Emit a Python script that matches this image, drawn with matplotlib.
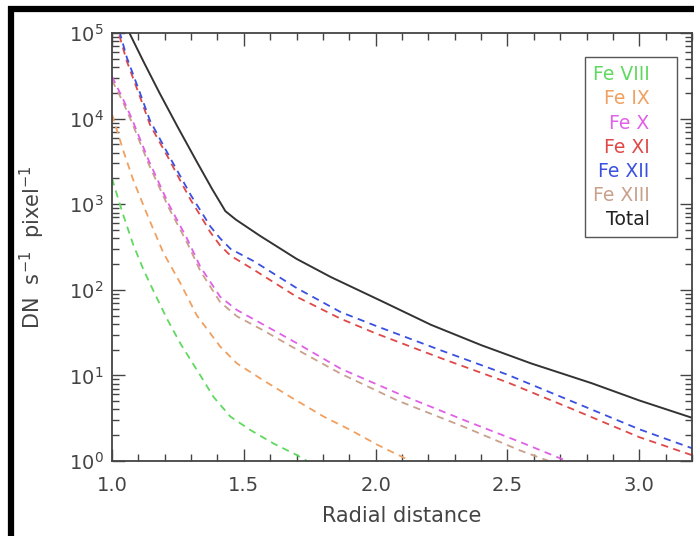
import matplotlib
matplotlib.use("Agg")
from matplotlib import pyplot as plt
from matplotlib.lines import Line2D
from matplotlib.ticker import MultipleLocator, FormatStrFormatter, LogLocator

# values (DN s^-1 pixel^-1 vs radial distance)
x_fe8 = [1.00, 1.04, 1.08, 1.12, 1.16, 1.21, 1.26, 1.335, 1.385, 1.449, 1.525, 1.613, 1.702, 1.74]
y_fe8 = [2.0e3, 790, 340, 170, 93, 45, 23.4, 10.0, 5.6, 3.3, 2.3, 1.6, 1.17, 1.0]

x_fe9 = [1.00, 1.043, 1.081, 1.12, 1.144, 1.195, 1.259, 1.322, 1.354, 1.411, 1.474, 1.563, 1.677, 1.803, 1.905, 2.006, 2.10, 2.14]
y_fe9 = [1.12e4, 4.2e3, 1.9e3, 955, 630, 270, 120, 50, 37, 21.6, 13.8, 9.2, 5.6, 3.3, 2.3, 1.55, 1.12, 0.97]

x_fe10 = [1.00, 1.04, 1.075, 1.14, 1.215, 1.284, 1.335, 1.41, 1.474, 1.563, 1.702, 1.867, 2.082, 2.336, 2.55, 2.75]
y_fe10 = [3.1e4, 1.74e4, 1.0e4, 3.2e3, 1.0e3, 400, 186, 83, 58, 41, 23.7, 12.0, 6.2, 3.0, 1.66, 0.93]

x_fe13 = [1.00, 1.04, 1.075, 1.14, 1.215, 1.284, 1.335, 1.41, 1.474, 1.563, 1.702, 1.867, 2.082, 2.336, 2.55, 2.72]
y_fe13 = [2.8e4, 1.6e4, 9.1e3, 2.9e3, 910, 360, 166, 72, 49, 35, 20, 10.5, 5.1, 2.5, 1.32, 0.85]

x_fe11 = [1.00, 1.03, 1.056, 1.106, 1.144, 1.22, 1.26, 1.30, 1.335, 1.373, 1.41, 1.45, 1.54, 1.70, 1.867, 2.00, 2.25, 2.50, 2.75, 3.00, 3.20]
y_fe11 = [1.8e5, 8.9e4, 4.7e4, 1.8e4, 8.5e3, 3.2e3, 1.86e3, 1.1e3, 740, 470, 330, 250, 170, 83, 46, 31, 15.8, 8.3, 4.0, 1.9, 1.17]

x_fe12 = x_fe11
y_fe12 = [2.0e5, 1.0e5, 5.2e4, 2.0e4, 9.5e3, 3.5e3, 2.1e3, 1.26e3, 850, 550, 400, 300, 214, 105, 55, 38, 19.5, 10.2, 4.9, 2.35, 1.41]

x_total = [1.00, 1.066, 1.12, 1.18, 1.25, 1.32, 1.38, 1.43, 1.47, 1.56, 1.70, 1.83, 2.03, 2.21, 2.40, 2.59, 2.82, 3.00, 3.20]
y_total = [2.5e5, 1.0e5, 4.6e4, 2.0e4, 7.9e3, 3.2e3, 1.5e3, 830, 660, 430, 230, 141, 72, 39, 22.6, 13.8, 8.1, 5.1, 3.2]

labels = ["Fe VIII", "Fe IX", "Fe X", "Fe XI", "Fe XII", "Fe XIII", "Total"]
colors = ["#5fd95f", "#f0a060", "#e060e8", "#e04848", "#3a50e0", "#c9a08c", "#222222"]

fig = plt.figure(figsize=(6.94, 5.36), dpi=100)
ax = fig.add_axes([0.1614, 0.1399, 0.8357, 0.7985])

dash = (0, (4, 3))
ax.plot(x_fe8, y_fe8, color=colors[0], ls=dash, lw=1.3)
ax.plot(x_fe9, y_fe9, color=colors[1], ls=dash, lw=1.3)
ax.plot(x_fe13, y_fe13, color=colors[5], ls=dash, lw=1.3)
ax.plot(x_fe10, y_fe10, color=colors[2], ls=dash, lw=1.3)
ax.plot(x_fe11, y_fe11, color=colors[3], ls=dash, lw=1.3)
ax.plot(x_fe12, y_fe12, color=colors[4], ls=dash, lw=1.3)
ax.plot(x_total, y_total, color="#333333", lw=1.4)

ax.set_yscale("log")
ax.set_xlim(1.0, 3.2)
ax.set_ylim(1, 1e5)

ax.xaxis.set_major_locator(MultipleLocator(0.5))
ax.xaxis.set_minor_locator(MultipleLocator(0.1))
ax.xaxis.set_major_formatter(FormatStrFormatter("%.1f"))
ax.yaxis.set_minor_locator(LogLocator(base=10, subs=range(2, 10)))

ax.tick_params(which="both", direction="in", top=True, right=True, color="#444444", labelcolor="#444444", labelsize=14)
ax.tick_params(which="major", length=9, width=1.0)
ax.tick_params(which="minor", length=5, width=1.0)
ax.tick_params(axis="x", pad=11)
ax.tick_params(axis="y", pad=6)
for s in ax.spines.values():
    s.set_color("#444444")
    s.set_linewidth(1.3)

ax.set_xlabel("Radial distance", fontsize=15, color="#444444")
ax.set_ylabel("DN  s$^{-1}$  pixel$^{-1}$", fontsize=15, color="#444444")
ax.xaxis.set_label_coords(0.5, -0.105)
ax.yaxis.set_label_coords(-0.112, 0.5)

handles = [Line2D([], [], linestyle="none") for _ in labels]
leg = ax.legend(handles, labels, loc="upper right", bbox_to_anchor=(0.974, 0.944),
                borderaxespad=0, markerfirst=False, handlelength=0.7, handletextpad=0.3,
                labelcolor=colors, fancybox=False, edgecolor="#555555", framealpha=1,
                fontsize=13.5, labelspacing=0.27, borderpad=0.45)
leg.get_frame().set_linewidth(1.0)

# thick black frame of the original picture
fig.add_artist(Line2D([11 / 694, 11 / 694], [0, 1 - 6 / 536], transform=fig.transFigure,
                      color="black", lw=4.5, solid_capstyle="butt"))
fig.add_artist(Line2D([8 / 694, 1], [1 - 9 / 536, 1 - 9 / 536], transform=fig.transFigure,
                      color="black", lw=4.5, solid_capstyle="butt"))

plt.savefig("out.png", dpi=100)
